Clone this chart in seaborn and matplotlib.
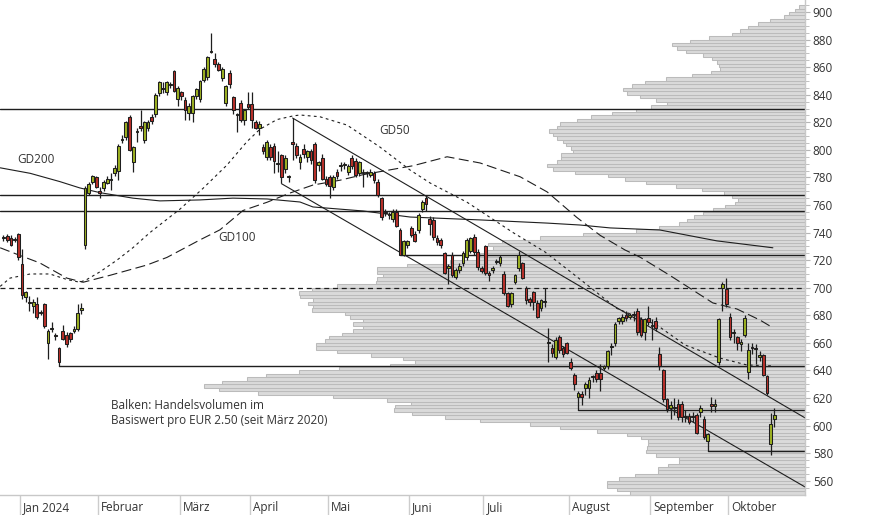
import numpy as np
import pandas as pd
import matplotlib
matplotlib.use('Agg')
import matplotlib.pyplot as plt
import seaborn as sns

# Tageskerzen (open, high, low, close), je Monat eine Liste
dez23 = [(736, 738, 734, 736.5), (737.5, 739, 733, 735), (736, 738, 730, 731),
         (735, 737, 733, 735.5), (739, 740, 720, 722)]
jan24 = [(717, 728, 692, 695), (693, 698, 690, 697), (690, 694, 683, 689),
         (687, 692, 682, 690), (688, 693, 677, 679), (682, 684, 680, 682.5),
         (688, 689, 671, 672), (660, 670, 648, 669), (670, 675, 668, 671),
         (665.5, 667, 662, 665), (656, 657, 643.5, 646), (669, 673, 662, 663),
         (666, 668, 657, 659), (667, 668, 661, 663), (669, 672, 667, 670),
         (670, 688, 669, 682), (684, 689, 681, 685), (731, 774, 728, 772),
         (769, 777, 767, 775), (777, 782, 775, 781), (780, 781, 772, 773)]
feb24 = [(770, 773, 765, 769), (772, 778, 770, 777), (776, 781, 775, 779),
         (778, 783, 771, 778.5), (783, 789, 781, 787), (785, 804, 778, 803),
         (807, 811, 805, 808), (809, 821, 807, 820), (824, 825, 799, 800),
         (791, 803, 784, 802), (813, 816, 806, 814), (817, 829, 814, 816),
         (807, 821, 805, 820), (816, 822, 814, 820), (824, 826, 819, 821),
         (826, 841, 824, 840), (841, 850, 839, 849), (845, 849, 841, 844),
         (842, 850, 840, 849), (847, 849, 845, 847.5), (857, 858, 842, 843),
         (837, 846, 832, 845)]
mar24 = [(842, 843, 836, 839), (836, 838, 822, 829), (827, 834, 822, 832),
         (827, 840, 820, 839), (839, 845, 837, 844), (837, 851, 835, 850),
         (851, 860, 849, 859), (853, 868, 851, 867), (871, 885, 870, 872),
         (866, 870, 860, 862), (862, 864, 857, 858), (852, 860, 850, 859),
         (834, 847, 832, 846), (856, 858, 845, 848), (838, 839, 826, 829),
         (825, 827, 813, 825.5), (834, 836, 820, 822), (822, 830, 818, 829),
         (833, 842, 830, 831)]
apr24 = [(833, 842, 816, 822), (820, 822, 815, 816), (816, 821, 811, 819),
         (802, 804, 797, 799), (795, 807, 793, 806), (802, 804, 793, 795),
         (803, 805, 783, 792), (790, 799, 784, 790.5), (796, 797, 776, 780),
         (786, 796, 783, 794), (780, 782, 777, 780.5), (806, 823, 793, 804),
         (803, 805, 794, 796), (791, 797, 786, 795), (801, 804, 794, 797),
         (795, 800, 791, 799), (799, 801, 790, 793), (804, 806, 776, 778),
         (789, 792, 785, 791), (794, 797, 778, 779), (779, 781, 774, 775)]
mai24 = [(780, 782, 765, 774), (773, 782, 771, 780), (784, 786, 779, 781),
         (788, 791, 785, 789), (789, 791, 786, 789.5), (784, 790, 782, 788),
         (794, 796, 786, 788), (792, 794, 780, 782), (783, 792, 781, 791),
         (783, 786, 773, 783.5), (783, 785, 780, 783.5), (782, 786, 780, 784),
         (783, 785, 776, 778), (777, 779, 766, 767), (765, 766, 749, 751),
         (755, 757, 752, 754.5), (753, 755, 750, 753.5), (750, 757, 748, 755),
         (755, 757, 744, 745), (742, 743, 723.5, 724), (724, 735, 723, 734),
         (731, 735, 729, 734)]
jun24 = [(743, 745, 737, 738), (739, 741, 733, 734), (742, 754, 740, 753),
         (757, 764, 755, 762), (765, 767, 756, 761), (750, 752, 738, 746),
         (749, 751, 735, 737), (736, 738, 731, 733), (735, 736, 729, 731),
         (725, 726, 710, 711), (714, 717, 703, 716), (724, 726, 708, 709),
         (708, 714, 706, 713), (713, 718, 711, 716), (718, 727, 716, 725),
         (722, 736, 720, 735), (727, 737, 725, 736), (737, 739, 724, 726),
         (726, 728, 713, 715), (714, 716, 711, 712)]
jul24 = [(730, 731, 709, 711), (711, 712, 705, 709), (713, 716, 711, 714),
         (719, 721, 717, 719.5), (718, 724, 716, 722), (710, 712, 695, 696),
         (696, 697, 686, 687), (688, 697, 686, 696), (704, 710, 703, 709),
         (714, 727, 712, 724), (718, 719, 706, 707), (700, 701, 688, 691),
         (692, 693, 687, 690), (697, 698, 684, 690), (689, 691, 678, 679),
         (685, 692, 683, 691), (690, 700, 686, 690.5), (660, 671, 646, 661),
         (656, 659, 650, 653), (650, 664, 648, 662), (664, 666, 653, 655),
         (656, 658, 650, 652), (660, 661, 652, 653)]
aug24 = [(646, 649, 640, 642), (637, 638, 626, 630), (621, 625, 611.2, 624),
         (623, 625, 615, 621), (627, 632, 622, 630), (627, 635, 620, 633),
         (635, 637, 632, 635.5), (638, 640, 632, 634), (638, 645, 625, 634),
         (642, 644, 640, 643), (643, 655, 641, 654), (657, 660, 651, 657.5),
         (660, 675, 658, 674), (676, 679, 674, 678), (676, 681, 674, 679),
         (680, 683, 676, 678), (679, 682, 677, 680), (680, 683, 676, 680.5),
         (683, 685, 666, 668), (677, 679, 664, 666), (668, 678, 662, 677),
         (678, 687, 673, 675)]
sep24 = [(672, 677, 662, 672.5), (676, 679, 669, 671), (652, 657, 640, 643),
         (640, 641, 617, 619), (619, 620, 610, 612), (613, 618, 605, 615),
         (613, 620, 608, 613.5), (616, 619, 604, 606), (616, 618, 603, 606),
         (606, 611, 603, 606.5), (607, 609, 601, 603), (607, 610, 603, 606.5),
         (608, 609, 594, 595), (610, 615, 606, 613), (605, 607, 590, 592),
         (589, 595, 581.8, 594), (616, 621, 610, 614), (614, 619, 610, 616),
         (646, 678, 644, 677), (700, 704, 683, 703), (699, 707, 686, 688)]
okt24 = [(679, 682, 662, 664), (667, 670, 660, 667.5), (664, 665, 655, 660),
         (659, 663, 654, 661), (666, 680, 664, 678), (639, 660, 634, 655),
         (657, 660, 652, 656), (656, 659, 645, 655.5), (650, 654, 647, 651),
         (651, 652, 636, 637), (636, 637, 622, 624), (587, 609, 579, 601),
         (605, 613, 599, 608)]

month_labels = ['Jan 2024', 'Februar', 'März', 'April', 'Mai', 'Juni',
                'Juli', 'August', 'September', 'Oktober']

# gleitende Durchschnitte (Handelstag-Index, Kurs)
gd50_idx = [-0.9, 1.75, 7.2, 12.5, 17.1, 20.6, 22.5, 26.0, 30.6, 34.9, 39.5, 47.6,
            53.8, 60.3, 65.7, 69.2, 73.8, 78.1, 80.0, 85.4, 92.7, 101.6, 109.7,
            115.1, 125.1, 137.5, 146.1, 154.7, 165.5, 176.3, 183.9, 193.3, 200.6, 207.6]
gd50_val = [701, 707, 710, 710, 706, 704, 706, 711.5, 720, 729, 740, 757,
            772, 789, 806, 815, 822, 824.6, 825.3, 824, 818, 802, 785.4,
            776, 762, 740, 726, 708, 685, 673, 658.5, 649, 644, 643.3]
gd100_idx = [-0.9, 3.9, 9.8, 17.1, 21.5, 28.7, 38.7, 44.1, 53.0, 58.4, 64.6, 71.1,
             77.3, 83.5, 90.8, 97.0, 110.5, 119.7, 128.6, 139.4, 146.7, 154.7,
             161.0, 167.7, 171.7, 179.8, 191.4, 197.9, 204.1, 207.6]
gd100_val = [729, 724, 718, 707, 704, 709, 716.5, 722, 734.7, 742, 756, 762,
             768.7, 774.5, 778, 782, 788.5, 795, 790.5, 780.5, 769.5, 751,
             738, 727.4, 722.3, 709, 689, 684.6, 676.6, 671]
gd200_idx = [-0.9, 7.2, 15.2, 20.6, 26.0, 34.9, 42.2, 53.0, 61.9, 71.1, 80.0, 83.5,
             97.0, 109.7, 128.6, 146.7, 155.6, 163.7, 177.1, 192.5, 207.6]
gd200_val = [787, 783, 777, 772.4, 769, 765, 763, 763.7, 765, 764.4, 762.2, 758.6,
             755.7, 751.3, 749.2, 746.9, 745.5, 743.4, 741.9, 734, 729]

# Unterstützungen / Widerstände: Kurs und erster Handelstag
h_levels = [829.5, 767.2, 755.6, 723.5, 643.5, 611.2, 581.8]
h_start = [-0.9, -0.9, -0.9, 107, 15, 155, 190]
dashed_level = 700

# Trendkanal (Start- und Endpunkt)
chan_upper = [(78, 823.1), (216.3, 605.6)]
chan_lower = [(75, 775.5), (216.3, 555.5)]

# Volumenprofil, je EUR 2.50 ab 550 (relative Balkenlänge)
vol_rel = [175, 188, 198, 198, 186, 170, 147, 147, 137, 126,
           126, 149, 159, 158, 157, 157, 164, 178, 208, 245,
           275, 325, 360, 393, 411, 410, 394, 418, 472, 547,
           586, 601, 583, 558, 539, 506, 466, 415, 390, 402,
           434, 468, 489, 489, 480, 476, 463, 452, 442, 452,
           442, 455, 460, 493, 492, 497, 492, 505, 506, 493,
           468, 429, 428, 422, 428, 428, 398, 355, 327, 325,
           321, 312, 317, 303, 265, 222, 169, 146, 126, 118,
           111, 102, 92, 80, 70, 67, 73, 81, 103, 129,
           159, 180, 197, 230, 252, 258, 248, 244, 244, 232,
           234, 239, 242, 248, 252, 256, 248, 245, 228, 214,
           193, 169, 154, 138, 149, 165, 178, 182, 173, 160,
           139, 113, 94, 85, 86, 88, 93, 102, 119, 128,
           133, 115, 96, 73, 65, 57, 47, 35, 21, 16,
           10, 6]
vol_bins = 550 + 2.5 * np.arange(len(vol_rel))

sns.set_style('white')
plt.rcParams['font.family'] = ['Open Sans', 'DejaVu Sans']

monthly = [dez23, jan24, feb24, mar24, apr24, mai24, jun24, jul24, aug24, sep24, okt24]
df = pd.DataFrame([r for m in monthly for r in m], columns=['open', 'high', 'low', 'close'])
df['idx'] = np.arange(len(df))
bounds = np.cumsum([len(m) for m in monthly])[:-1] - 0.5

fig = plt.figure(figsize=(8.74, 5.15), dpi=100)
ax = fig.add_axes([0, 20 / 515, 805 / 874, 495 / 515])
xmin, xmax = -0.944, 216.27
ymin, ymax = 549.7, 908.7

# Volumenprofil im Hintergrund
ax2 = ax.twiny()
ax2.barh(vol_bins, vol_rel, height=2.5, align='edge', color='#dadada',
         edgecolor='#bbbbbb', linewidth=0.75)
ax2.set_xlim(805, 0)
ax2.set_axis_off()
ax.set_zorder(ax2.get_zorder() + 1)
ax.patch.set_visible(False)

txt = '#333333'
line_c = '#1e1e1e'

# Linien
for lvl, st in zip(h_levels, h_start):
    ax.plot([st, xmax], [lvl, lvl], color=line_c, lw=1.0, zorder=2)
ax.axhline(dashed_level, color=line_c, lw=0.9, ls=(0, (4, 3)), zorder=2)
for seg in (chan_upper, chan_lower):
    ax.plot([seg[0][0], seg[1][0]], [seg[0][1], seg[1][1]], color=line_c, lw=0.8, zorder=2)

sns.lineplot(x=gd200_idx, y=gd200_val, ax=ax, color=line_c, lw=0.8, zorder=2)
sns.lineplot(x=gd100_idx, y=gd100_val, ax=ax, color=line_c, lw=0.8,
             linestyle=(0, (9, 4)), zorder=2)
sns.lineplot(x=gd50_idx, y=gd50_val, ax=ax, color=line_c, lw=0.8,
             linestyle=(0, (2.5, 3)), zorder=2)

# Kerzen
up = df['close'] >= df['open']
body_lo = df[['open', 'close']].min(axis=1)
body_h = (df['close'] - df['open']).abs().clip(lower=0.7)
ax.vlines(df['idx'], df['low'], df['high'], color=line_c, lw=0.9, zorder=3)
ax.bar(df['idx'], body_h, bottom=body_lo, width=0.74,
       color=np.where(up, '#9cb022', '#b9302a'), edgecolor=line_c, linewidth=0.75, zorder=4)

# Beschriftungen
ax.text(3.6, 792.7, 'GD200', fontsize=8.5, color=txt, va='center')
ax.text(57.9, 736.8, 'GD100', fontsize=8.5, color=txt, va='center')
ax.text(101.3, 814.4, 'GD50', fontsize=8.5, color=txt, va='center')
ax.text(29.0, 619, 'Balken: Handelsvolumen im\nBasiswert pro EUR 2.50 (seit März 2020)',
        fontsize=8.5, color=txt, va='top', linespacing=1.15)

ax.set_xlim(xmin, xmax)
ax.set_ylim(ymin, ymax)
ax.set_xlabel('')
ax.set_ylabel('')

ax.set_xticks(bounds)
ax.set_xticklabels([])
ax.tick_params(axis='x', length=14.4, color='#cccccc', width=1, direction='out')
for b, lab in zip(bounds, month_labels):
    ax.annotate(lab, xy=(b, 0), xycoords=('data', 'axes fraction'), xytext=(2.2, -9.2),
                textcoords='offset points', ha='left', va='center', fontsize=8.5, color=txt)

ax.yaxis.tick_right()
ax.set_yticks(np.arange(560, 901, 20))
ax.set_yticks(np.arange(555, 906, 5), minor=True)
ax.tick_params(axis='y', which='major', length=3.6, color='#b5b5b5', pad=2,
               labelsize=8.5, labelcolor=txt)
ax.tick_params(axis='y', which='minor', length=2.6, color='#b5b5b5')

for s in ('top', 'left'):
    ax.spines[s].set_visible(False)
for s in ('right', 'bottom'):
    ax.spines[s].set_color('#c8c8c8')
    ax.spines[s].set_linewidth(1)

fig.savefig('out.png', dpi=100, facecolor='white')
